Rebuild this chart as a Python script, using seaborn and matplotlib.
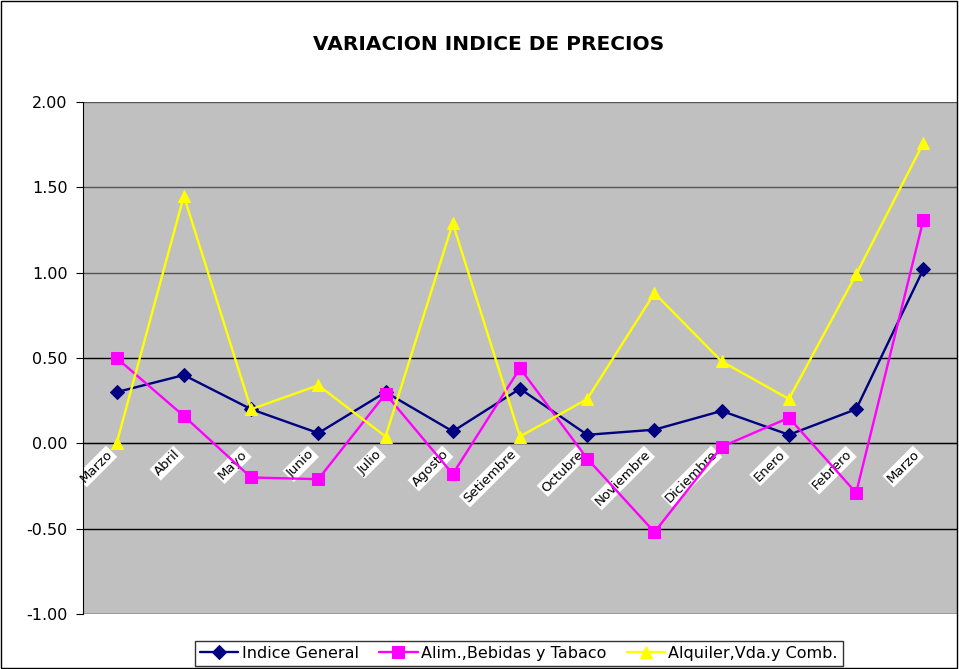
import numpy as np
import pandas as pd
import matplotlib
matplotlib.use("Agg")
import matplotlib.pyplot as plt
import matplotlib.transforms as mtrans
import seaborn as sns
from matplotlib.patches import Rectangle

months = ["Marzo", "Abril", "Mayo", "Junio", "Julio", "Agosto", "Setiembre",
          "Octubre", "Noviembre", "Diciembre", "Enero", "Febrero", "Marzo"]
indice_general = [0.30, 0.40, 0.20, 0.06, 0.30, 0.07, 0.32, 0.05, 0.08, 0.19, 0.05, 0.20, 1.02]
alim_bebidas = [0.50, 0.16, -0.20, -0.21, 0.29, -0.18, 0.44, -0.09, -0.52, -0.02, 0.15, -0.29, 1.31]
alquiler = [0.00, 1.45, 0.20, 0.34, 0.04, 1.29, 0.04, 0.26, 0.88, 0.48, 0.26, 0.99, 1.76]
series_names = ["Indice General", "Alim.,Bebidas y Tabaco", "Alquiler,Vda.y Comb."]
y_ticks = [-1.0, -0.5, 0.0, 0.5, 1.0, 1.5, 2.0]

sns.set_style("white")
plt.rcParams["font.family"] = ["DejaVu Sans"]
plt.rcParams["text.color"] = "black"
plt.rcParams["xtick.color"] = "black"
plt.rcParams["ytick.color"] = "black"

fig = plt.figure(figsize=(9.59, 6.69), dpi=100)
ax = fig.add_axes([83/959, 1-614/669, 874/959, (614-102)/669])
ax.set_facecolor("#C0C0C0")

x = np.arange(len(months))
styles = [
    (indice_general, "#000080", "D", 7),
    (alim_bebidas, "#FF00FF", "s", 8),
    (alquiler, "#FFFF00", "^", 9),
]
for name, (vals, col, mk, ms) in zip(series_names, styles):
    df = pd.DataFrame({"x": x, "y": vals})
    sns.lineplot(data=df, x="x", y="y", ax=ax, color=col, marker=mk,
                 markersize=ms, markeredgecolor=col, linewidth=1.7,
                 label=name, zorder=3)

# spine placement first (it resets ticks)
ax.spines["bottom"].set_position(("data", 0))
ax.spines["bottom"].set_color("black")
ax.spines["left"].set_color("black")
ax.spines["top"].set_visible(False)
ax.spines["right"].set_visible(False)

ax.set_xlim(-0.5, len(months) - 0.5)
ax.set_ylim(-1.0, 2.0)
for v in y_ticks:
    ax.axhline(v, color="#000000" if v <= 0.5 else "#555555",
               linewidth=1.0, zorder=1)

ax.set_xticks(x[:-1] + 0.5, minor=True)
ax.tick_params(axis="x", which="major", length=0, pad=5)
ax.tick_params(axis="x", which="minor", length=5, direction="out", color="black")
ax.tick_params(axis="y", length=5, direction="out", color="black", left=True, pad=6)

ax.set_yticks(y_ticks)
ax.set_yticklabels([f"{v:.2f}" for v in y_ticks], fontsize=11.5)
ax.set_xticks(x)
ax.set_xticklabels(months, fontsize=9.5, rotation=45, ha="right", va="center",
                   rotation_mode="anchor")
offset = mtrans.ScaledTranslation(-6/100, -2/100, fig.dpi_scale_trans)
for lbl in ax.get_xticklabels():
    lbl.set_bbox(dict(facecolor="white", edgecolor="none", pad=1))
    lbl.set_transform(lbl.get_transform() + offset)

ax.set_xlabel("")
ax.set_ylabel("")

ax.legend_.remove()
handles, labels = ax.get_legend_handles_labels()
leg = fig.legend(handles, labels, ncol=3, loc="upper center",
                 bbox_to_anchor=(519/959, 1-641/669), fontsize=11.5,
                 frameon=True, fancybox=False, edgecolor="black",
                 handlelength=2.4, handletextpad=0.2, columnspacing=1.3,
                 borderpad=0.3, borderaxespad=0)
leg.get_frame().set_linewidth(1.0)

fig.text(489/959, 1-45/669, "VARIACION INDICE DE PRECIOS", ha="center",
         va="center", fontsize=14.5, fontweight="bold")

fig.patches.append(Rectangle((0.001, 0.001), 0.997, 0.997, transform=fig.transFigure,
                             fill=False, edgecolor="black", linewidth=1.0))

fig.savefig("out.png", dpi=100)
